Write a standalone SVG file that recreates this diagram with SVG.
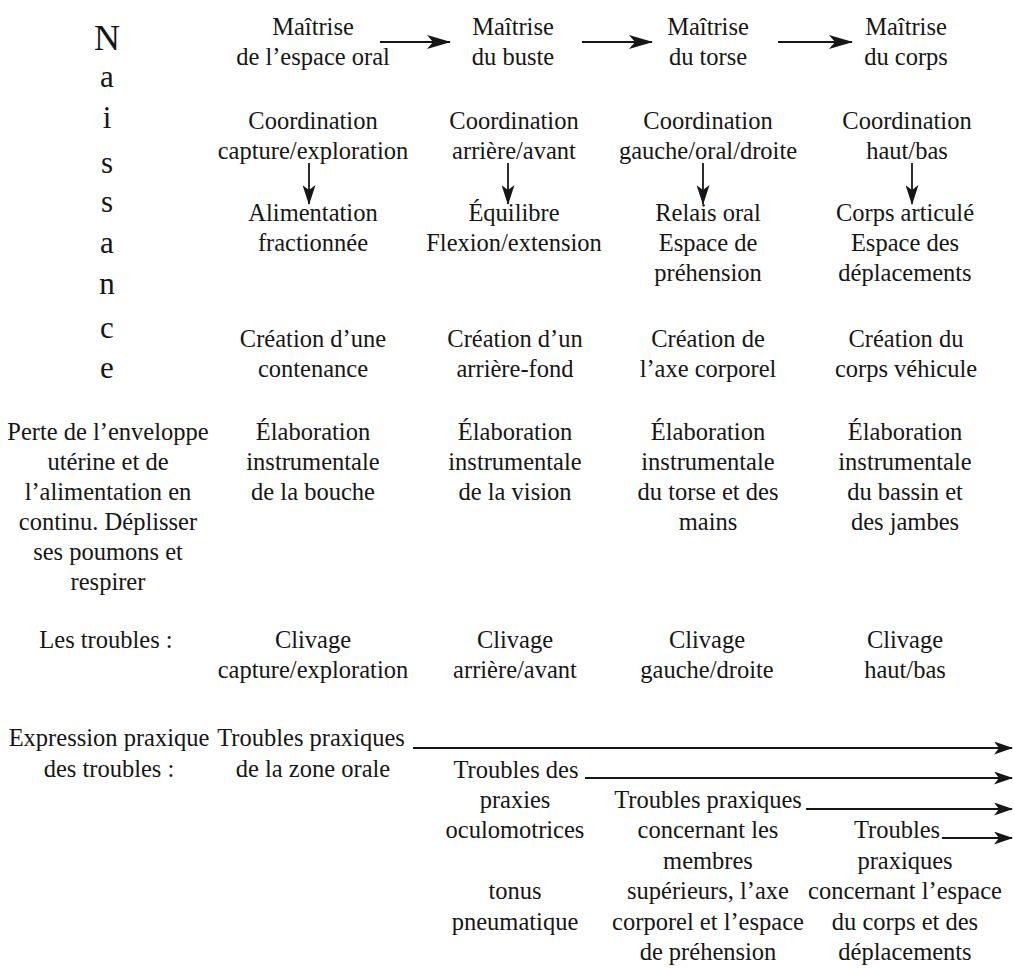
<svg xmlns="http://www.w3.org/2000/svg" width="1014" height="968" viewBox="0 0 1014 968">
<defs>
<style>
text{font-family:"Liberation Serif","DejaVu Serif",serif;font-size:24.5px;fill:#161616;text-anchor:middle}
.big{font-size:31px}
.cap{font-size:36px}
.ln{stroke:#161616;stroke-width:1.8;fill:none}
</style>
<marker id="ah" viewBox="0 0 24 14" refX="23" refY="7" markerWidth="24" markerHeight="14" markerUnits="userSpaceOnUse" orient="auto">
<path d="M0,0 L24,7 L0,14 L6,7 Z" fill="#161616"/>
</marker>
<marker id="ahd" viewBox="0 0 20 13" refX="19" refY="6.5" markerWidth="20" markerHeight="13" markerUnits="userSpaceOnUse" orient="auto">
<path d="M0,0 L20,6.5 L0,13 L5,6.5 Z" fill="#161616"/>
</marker>
<marker id="ahs" viewBox="0 0 19 13" refX="18" refY="6.5" markerWidth="19" markerHeight="13" markerUnits="userSpaceOnUse" orient="auto">
<path d="M0,0 L19,6.5 L0,13 L5,6.5 Z" fill="#161616"/>
</marker>
</defs>
<rect width="1014" height="968" fill="#ffffff"/>

<g id="naissance">
<text class="cap" x="107" y="50">N</text>
<text class="big" x="107" y="87">a</text>
<text class="big" x="107" y="128">i</text>
<text class="big" x="107" y="173">s</text>
<text class="big" x="107" y="212">s</text>
<text class="big" x="107" y="253">a</text>
<text class="big" x="107" y="294">n</text>
<text class="big" x="107" y="338">c</text>
<text class="big" x="107" y="378">e</text>
</g>

<g id="col0">
<text x="108" y="440">Perte de l’enveloppe</text>
<text x="108" y="470">utérine et de</text>
<text x="108" y="500">l’alimentation en</text>
<text x="108" y="530">continu. Déplisser</text>
<text x="108" y="560">ses poumons et</text>
<text x="108" y="590">respirer</text>
<text x="106" y="648">Les troubles :</text>
<text x="109" y="746">Expression praxique</text>
<text x="109" y="777">des troubles :</text>
</g>

<g id="col1">
<text x="313" y="35">Maîtrise</text>
<text x="313" y="65">de l’espace oral</text>
<text x="313" y="129">Coordination</text>
<text x="313" y="159">capture/exploration</text>
<text x="313" y="221">Alimentation</text>
<text x="313" y="251">fractionnée</text>
<text x="313" y="347">Création d’une</text>
<text x="313" y="377">contenance</text>
<text x="313" y="440">Élaboration</text>
<text x="313" y="470">instrumentale</text>
<text x="313" y="500">de la bouche</text>
<text x="313" y="648">Clivage</text>
<text x="313" y="678">capture/exploration</text>
<text x="311" y="746">Troubles praxiques</text>
<text x="313" y="777">de la zone orale</text>
</g>

<g id="col2">
<text x="513" y="35">Maîtrise</text>
<text x="513" y="65">du buste</text>
<text x="514" y="129">Coordination</text>
<text x="514" y="159">arrière/avant</text>
<text x="514" y="221">Équilibre</text>
<text x="514" y="251">Flexion/extension</text>
<text x="515" y="347">Création d’un</text>
<text x="515" y="377">arrière-fond</text>
<text x="515" y="440">Élaboration</text>
<text x="515" y="470">instrumentale</text>
<text x="515" y="500">de la vision</text>
<text x="515" y="648">Clivage</text>
<text x="515" y="678">arrière/avant</text>
<text x="516" y="778">Troubles des</text>
<text x="515" y="808">praxies</text>
<text x="515" y="838">oculomotrices</text>
<text x="515" y="899">tonus</text>
<text x="515" y="930">pneumatique</text>
</g>

<g id="col3">
<text x="708" y="35">Maîtrise</text>
<text x="708" y="65">du torse</text>
<text x="708" y="129">Coordination</text>
<text x="708" y="159">gauche/oral/droite</text>
<text x="708" y="221">Relais oral</text>
<text x="708" y="251">Espace de</text>
<text x="708" y="281">préhension</text>
<text x="708" y="347">Création de</text>
<text x="708" y="377">l’axe corporel</text>
<text x="708" y="440">Élaboration</text>
<text x="708" y="470">instrumentale</text>
<text x="708" y="500">du torse et des</text>
<text x="708" y="530">mains</text>
<text x="707" y="648">Clivage</text>
<text x="707" y="678">gauche/droite</text>
<text x="708" y="808">Troubles praxiques</text>
<text x="708" y="838">concernant les</text>
<text x="708" y="869">membres</text>
<text x="708" y="899">supérieurs, l’axe</text>
<text x="708" y="930">corporel et l’espace</text>
<text x="708" y="960">de préhension</text>
</g>

<g id="col4">
<text x="906" y="35">Maîtrise</text>
<text x="906" y="65">du corps</text>
<text x="907" y="129">Coordination</text>
<text x="907" y="159">haut/bas</text>
<text x="905" y="221">Corps articulé</text>
<text x="905" y="251">Espace des</text>
<text x="905" y="281">déplacements</text>
<text x="906" y="347">Création du</text>
<text x="906" y="377">corps véhicule</text>
<text x="905" y="440">Élaboration</text>
<text x="905" y="470">instrumentale</text>
<text x="905" y="500">du bassin et</text>
<text x="905" y="530">des jambes</text>
<text x="905" y="648">Clivage</text>
<text x="905" y="678">haut/bas</text>
<text x="897" y="838">Troubles</text>
<text x="905" y="869">praxiques</text>
<text x="905" y="899">concernant l’espace</text>
<text x="905" y="930">du corps et des</text>
<text x="905" y="960">déplacements</text>
</g>

<g id="connectors">
<line class="ln" x1="380" y1="42" x2="450" y2="42" marker-end="url(#ah)"/>
<line class="ln" x1="582" y1="42" x2="652" y2="42" marker-end="url(#ah)"/>
<line class="ln" x1="778" y1="42" x2="852" y2="42" marker-end="url(#ah)"/>
<line class="ln" x1="309" y1="163" x2="309" y2="204" marker-end="url(#ahd)"/>
<line class="ln" x1="508" y1="163" x2="508" y2="204" marker-end="url(#ahd)"/>
<line class="ln" x1="703" y1="163" x2="703" y2="204" marker-end="url(#ahd)"/>
<line class="ln" x1="912" y1="163" x2="912" y2="204" marker-end="url(#ahd)"/>
<line class="ln" x1="413" y1="748" x2="1012" y2="748" marker-end="url(#ahs)"/>
<line class="ln" x1="585" y1="778" x2="1012" y2="778" marker-end="url(#ahs)"/>
<line class="ln" x1="806" y1="809" x2="1012" y2="809" marker-end="url(#ahs)"/>
<line class="ln" x1="942" y1="838" x2="1012" y2="838" marker-end="url(#ahs)"/>
</g>
</svg>
